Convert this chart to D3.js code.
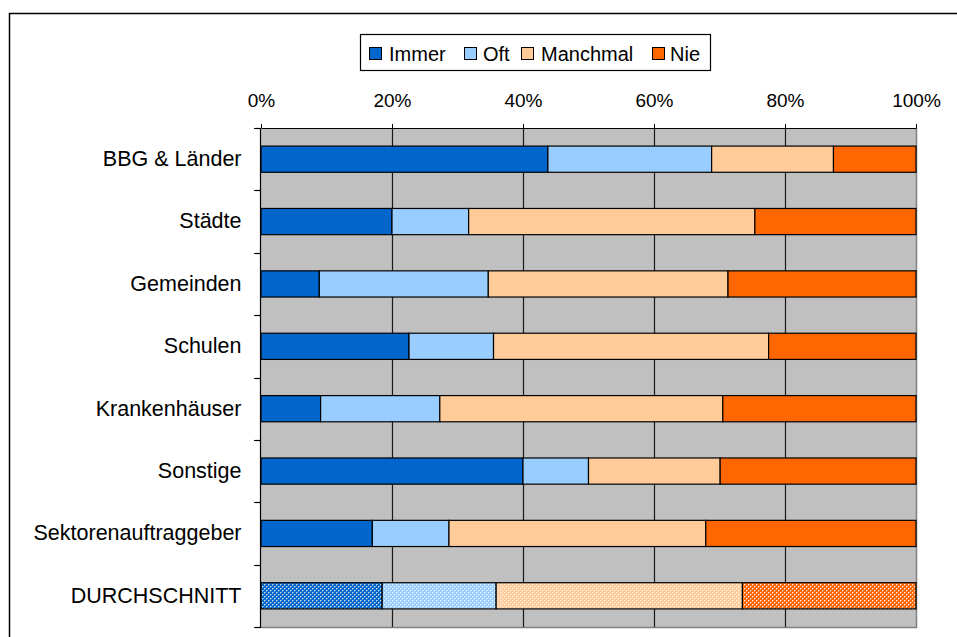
<!DOCTYPE html>
<html>
<head>
<meta charset="utf-8">
<script src="https://cdn.jsdelivr.net/npm/d3@7"></script>
<style>
  body { margin: 0; background: #fff; }
  svg { display: block; font-family: "Liberation Sans", Arial, sans-serif; }
</style>
</head>
<body>
<script>
// Data (percent per category)
const categories = ["BBG & Länder", "Städte", "Gemeinden", "Schulen", "Krankenhäuser", "Sonstige", "Sektorenauftraggeber", "DURCHSCHNITT"];
const immer    = [43.8, 20.0,  8.9, 22.6,  9.1, 40.0, 17.0, 18.5];
const oft      = [25.0, 11.7, 25.8, 12.9, 18.2, 10.0, 11.7, 17.4];
const manchmal = [18.6, 43.7, 36.6, 42.0, 43.2, 20.1, 39.2, 37.6];
const nie      = [12.6, 24.6, 28.7, 22.5, 29.5, 29.9, 32.1, 26.5];
const seriesNames = ["Immer", "Oft", "Manchmal", "Nie"];
const colors = ["#0066CC", "#99CCFF", "#FFCC99", "#FF6600"];
const xTicks = [0, 20, 40, 60, 80, 100];

// Layout
const width = 957, height = 637;
const plotLeft = 261, plotRight = 916, plotTop = 128, plotBottom = 627;

const rows = categories.map((c, i) => ({
  cat: c, Immer: immer[i], Oft: oft[i], Manchmal: manchmal[i], Nie: nie[i]
}));
const stacked = d3.stack().keys(seriesNames)(rows);

const x = d3.scaleLinear().domain([0, 100]).range([plotLeft, plotRight]);
const y = d3.scaleBand().domain(categories).range([plotTop, plotBottom])
  .paddingInner(0.58).paddingOuter(0.29);
const yEdge = d3.scaleLinear().domain([0, categories.length]).range([plotTop, plotBottom]);
const color = d3.scaleOrdinal().domain(seriesNames).range(colors);

const svg = d3.select("body").append("svg")
  .attr("width", width).attr("height", height);

// dotted patterns for the average row
const defs = svg.append("defs");
seriesNames.forEach((s, i) => {
  const p = defs.append("pattern")
    .attr("id", "pat" + i)
    .attr("width", 4).attr("height", 4)
    .attr("patternUnits", "userSpaceOnUse");
  p.append("rect").attr("width", 4).attr("height", 4).attr("fill", colors[i]);
  [[0, 0], [2, 2]].forEach(([px, py]) => {
    p.append("rect").attr("x", px).attr("y", py).attr("width", 1).attr("height", 1)
      .attr("fill", "#fff").attr("opacity", 0.85);
  });
  [[1, 0], [3, 2], [0, 1], [2, 3]].forEach(([px, py]) => {
    p.append("rect").attr("x", px).attr("y", py).attr("width", 1).attr("height", 1)
      .attr("fill", "#fff").attr("opacity", 0.35);
  });
});

// outer frame
svg.append("rect")
  .attr("x", 9.5).attr("y", 13.5)
  .attr("width", 1000).attr("height", 1000)
  .attr("fill", "none").attr("stroke", "#000").attr("stroke-width", 1.5);

// plot background
svg.append("rect")
  .attr("x", plotLeft).attr("y", plotTop)
  .attr("width", plotRight - plotLeft).attr("height", plotBottom - plotTop)
  .attr("fill", "#C0C0C0");
svg.append("path")
  .attr("d", `M${plotRight + 0.5},${plotTop}V${plotBottom + 0.5}H${plotLeft}`)
  .attr("fill", "none").attr("stroke", "#808080").attr("stroke-width", 1.5);

// gridlines
svg.append("g")
  .selectAll("line")
  .data(xTicks.filter(d => d > 0 && d < 100))
  .join("line")
  .attr("x1", d => Math.round(x(d)) + 0.5).attr("x2", d => Math.round(x(d)) + 0.5)
  .attr("y1", plotTop).attr("y2", plotBottom)
  .attr("stroke", "#1a1a1a").attr("stroke-width", 1.2);

// bars
svg.append("g")
  .selectAll("g")
  .data(stacked)
  .join("g")
  .each(function(layer, li) {
    d3.select(this).selectAll("rect")
      .data(layer)
      .join("rect")
      .attr("x", d => x(d[0]))
      .attr("y", d => y(d.data.cat))
      .attr("width", d => x(d[1]) - x(d[0]))
      .attr("height", y.bandwidth())
      .attr("fill", d => d.data.cat === "DURCHSCHNITT" ? "url(#pat" + li + ")" : color(layer.key))
      .attr("stroke", "#000")
      .attr("stroke-width", 1.2);
  });

// top axis
const topAxis = svg.append("g")
  .attr("transform", "translate(0," + plotTop + ")")
  .call(d3.axisTop(x).tickValues(xTicks).tickFormat(d => d + "%").tickSize(4).tickPadding(17).tickSizeOuter(0));
topAxis.select(".domain").attr("stroke", "#000");
topAxis.selectAll("line").attr("stroke", "#000");
topAxis.selectAll("text").attr("font-size", 19).attr("fill", "#000")
  .attr("font-family", "Liberation Sans, Arial, sans-serif");

// left axis (labels)
const leftAxis = svg.append("g")
  .attr("transform", "translate(" + (plotLeft - 0.5) + ",0)")
  .call(d3.axisLeft(y).tickSize(0).tickPadding(19));
leftAxis.select(".domain").attr("d", `M0,${plotTop}V${plotBottom}`).attr("stroke", "#000").attr("stroke-width", 1.2);
leftAxis.selectAll("text").attr("font-size", 21.5).attr("fill", "#000")
  .attr("font-family", "Liberation Sans, Arial, sans-serif");

// category boundary ticks
svg.append("g")
  .selectAll("line")
  .data(d3.range(categories.length + 1))
  .join("line")
  .attr("x1", plotLeft - 7).attr("x2", plotLeft)
  .attr("y1", d => Math.round(yEdge(d)) + 0.5).attr("y2", d => Math.round(yEdge(d)) + 0.5)
  .attr("stroke", "#000").attr("stroke-width", 1.2);

// legend
const legend = svg.append("g");
legend.append("rect")
  .attr("x", 360.5).attr("y", 34.5).attr("width", 350).attr("height", 36)
  .attr("fill", "#fff").attr("stroke", "#000").attr("stroke-width", 1.2);
const legendBoxX = [369, 464, 521, 652];
const legendTextX = [389, 483, 541, 670];
const items = legend.selectAll("g.item")
  .data(seriesNames)
  .join("g")
  .attr("class", "item");
items.append("rect")
  .attr("x", (d, i) => legendBoxX[i] + 0.5).attr("y", 47.5).attr("width", 12).attr("height", 12)
  .attr("fill", d => color(d)).attr("stroke", "#000").attr("stroke-width", 1);
items.append("text")
  .attr("x", (d, i) => legendTextX[i]).attr("y", 60.5)
  .attr("font-size", 20).attr("fill", "#000")
  .text(d => d);
</script>
</body>
</html>
